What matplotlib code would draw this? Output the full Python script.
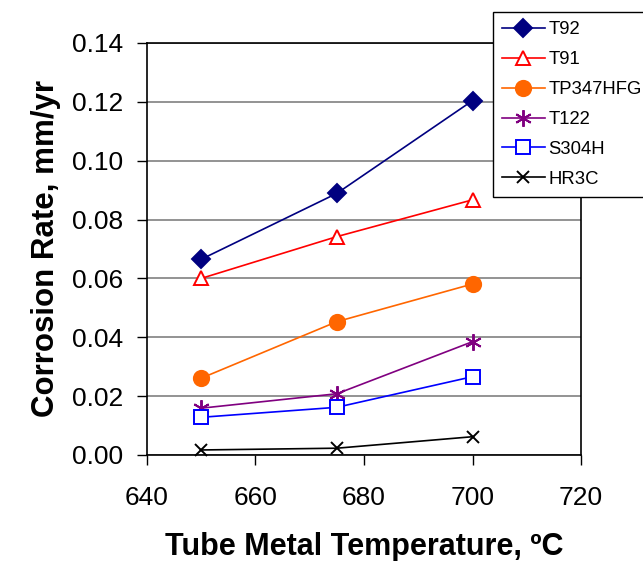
import matplotlib.pyplot as plt

plt.rcParams['font.family'] = ['Liberation Sans', 'DejaVu Sans']

# temperatures, deg C
temps = [650, 675, 700]

# corrosion rate, mm/yr
t92 = [0.0665, 0.0889, 0.1204]
t91 = [0.0600, 0.0742, 0.0867]
tp347hfg = [0.0261, 0.0453, 0.0581]
t122 = [0.0159, 0.0208, 0.0385]
s304h = [0.0128, 0.0162, 0.0266]
hr3c = [0.0017, 0.0023, 0.0062]

series = [
    ("T92", t92, "#000080", "D", "#000080", 9),
    ("T91", t91, "#FF0000", "^", "white", 10),
    ("TP347HFG", tp347hfg, "#FF6600", "o", "#FF6600", 11),
    ("T122", t122, "#800080", (6, 2, 0), "#800080", 12),
    ("S304H", s304h, "#0000FF", "s", "white", 10),
    ("HR3C", hr3c, "#000000", "x", "#000000", 9),
]

fig = plt.figure(figsize=(6.43, 5.61), dpi=100)
ax = fig.add_axes([0.2286, 0.189, 0.675, 0.7344])

for name, vals, col, mk, fc, ms in series:
    ax.plot(temps, vals, color=col, lw=1.2, marker=mk, markersize=ms,
            markerfacecolor=fc, markeredgecolor=col, markeredgewidth=1.4,
            label=name, clip_on=False, zorder=3)

ax.set_xlim(640, 720)
ax.set_ylim(0, 0.14)
ax.set_xticks([640, 660, 680, 700, 720])
ax.set_yticks([0.00, 0.02, 0.04, 0.06, 0.08, 0.10, 0.12, 0.14])
ax.set_yticklabels([f"{v:.2f}" for v in ax.get_yticks()])
ax.tick_params(axis='both', direction='out', labelsize=19, length=7, width=1)
ax.tick_params(axis='x', pad=15)
ax.tick_params(axis='y', pad=10)
ax.yaxis.grid(True, color="#808080", lw=1.2)
ax.set_axisbelow(True)
for sp in ax.spines.values():
    sp.set_color("black")
    sp.set_linewidth(1.2)

ax.set_xlabel("Tube Metal Temperature, ºC", fontsize=22, fontweight='bold', labelpad=16)
ax.set_ylabel("Corrosion Rate, mm/yr", fontsize=22.5, fontweight='bold', labelpad=8)

leg = fig.legend(loc='upper left', bbox_to_anchor=(493 / 643, 1 - 12 / 561),
                 fontsize=13.3, frameon=True, fancybox=False, framealpha=1,
                 edgecolor='black', handlelength=2.3, labelspacing=0.7,
                 borderpad=0.5, handletextpad=0.2, borderaxespad=0)
leg.get_frame().set_linewidth(1.0)

fig.savefig("out.png", dpi=100)
